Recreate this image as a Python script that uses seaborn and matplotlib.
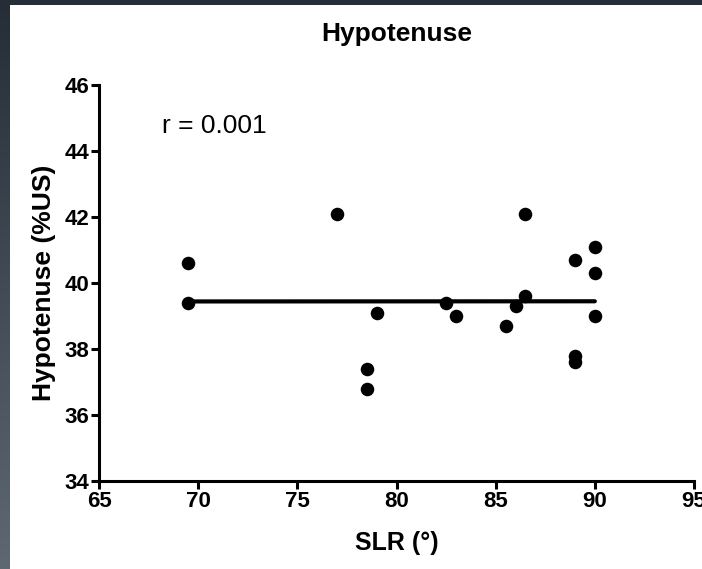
import numpy as np
import pandas as pd
import matplotlib
matplotlib.use("Agg")
import matplotlib.pyplot as plt
from matplotlib.colors import LinearSegmentedColormap
import seaborn as sns

# Data
slr = [69.5, 69.5, 77.0, 78.5, 78.5, 79.0, 82.5, 83.0, 85.5, 86.0, 86.5, 86.5,
       89.0, 89.0, 89.0, 90.0, 90.0, 90.0]
hyp = [40.6, 39.4, 42.1, 37.4, 36.8, 39.1, 39.4, 39.0, 38.7, 39.3, 42.1, 39.6,
       40.7, 37.8, 37.6, 41.1, 40.3, 39.0]
x_ticks = [65, 70, 75, 80, 85, 90, 95]
y_ticks = [34, 36, 38, 40, 42, 44, 46]
title = "Hypotenuse"
x_label = "SLR (°)"
y_label = "Hypotenuse (%US)"
annotation = "r = 0.001"

df = pd.DataFrame({"SLR": slr, "Hyp": hyp})

sns.set_theme(style="ticks")
plt.rcParams["font.family"] = ["Liberation Sans", "DejaVu Sans"]

W, H = 702, 569
fig = plt.figure(figsize=(W / 100, H / 100), dpi=100)
fig.patch.set_facecolor("white")

# slide background strips (left gradient + top)
bg_left = fig.add_axes([0, 0, 10 / W, 1])
grad = np.linspace(0, 1, 256).reshape(-1, 1)
cmap = LinearSegmentedColormap.from_list("bg", ["#252e37", "#5e6872"])
bg_left.imshow(grad, aspect="auto", cmap=cmap, extent=[0, 1, 0, 1], origin="upper")
bg_left.set_axis_off()
bg_top = fig.add_axes([0, 1 - 5 / H, 1, 5 / H])
bg_top.set_facecolor("#252d36")
bg_top.set_xticks([]); bg_top.set_yticks([])
for s in bg_top.spines.values():
    s.set_visible(False)

ax = fig.add_axes([99 / W, (H - 481) / H, 595 / W, 396 / H])
ax.set_facecolor("white")

sns.regplot(data=df, x="SLR", y="Hyp", ax=ax, ci=None, truncate=True,
            color="black",
            scatter_kws=dict(s=95, linewidths=0, alpha=1, zorder=3),
            line_kws=dict(linewidth=3, color="black", zorder=2))

ax.set_xlim(65, 95)
ax.set_ylim(34, 46)
ax.set_xticks(x_ticks)
ax.set_yticks(y_ticks)
ax.set_xticklabels([str(t) for t in x_ticks], fontweight="bold", fontsize=16)
ax.set_yticklabels([str(t) for t in y_ticks], fontweight="bold", fontsize=16)
ax.tick_params(axis="both", direction="out", length=6, width=2.2, color="black",
               pad=1, labelcolor="black")
sns.despine(ax=ax)
for side in ("left", "bottom"):
    ax.spines[side].set_linewidth(2.2)
    ax.spines[side].set_color("black")
for lbl in ax.get_xticklabels() + ax.get_yticklabels():
    lbl.set_clip_on(False)

ax.set_xlabel(x_label, fontweight="bold", fontsize=18, labelpad=14, color="black")
ax.set_ylabel(y_label, fontweight="bold", fontsize=19, labelpad=6, color="black")
ax.set_title(title, fontweight="bold", fontsize=19, pad=32, color="black")
ax.text(68.2, 44.75, annotation, fontsize=19, va="center", ha="left", color="black")

fig.savefig("out.png", dpi=100)
